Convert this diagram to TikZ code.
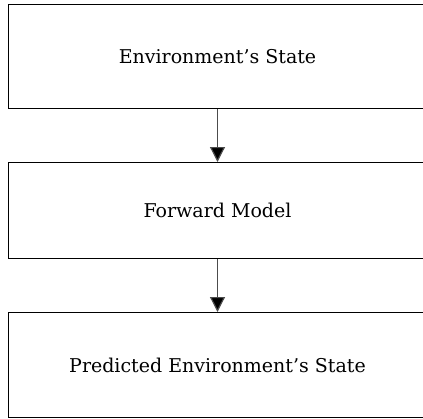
\documentclass[tikz,border=0pt]{standalone}
\usepackage{fontspec}
\setmainfont{DejaVu Serif}
\usetikzlibrary{arrows.meta}
\begin{document}
\begin{tikzpicture}[x=1pt,y=-1pt,
  stagebox/.style={draw=black,line width=1pt,minimum width=418pt,anchor=north west,inner sep=0pt,font=\fontsize{19}{22}\selectfont},
  flow/.style={draw=black!70,line width=1.2pt,-{Triangle[length=15pt,width=15pt,fill=black]}}]
\useasboundingbox (0,0) rectangle (423,418);
\clip (0,0) rectangle (423,418);
\node[stagebox,minimum height=104pt] (env) at (8,4) {Environment's State};
\node[stagebox,minimum height=96pt] (fwd) at (8,162) {Forward Model};
\node[stagebox,minimum height=105pt] (pred) at (8,312) {Predicted Environment's State};
\draw[flow] (env.south) -- (fwd.north);
\draw[flow] (fwd.south) -- (pred.north);
\end{tikzpicture}
\end{document}
